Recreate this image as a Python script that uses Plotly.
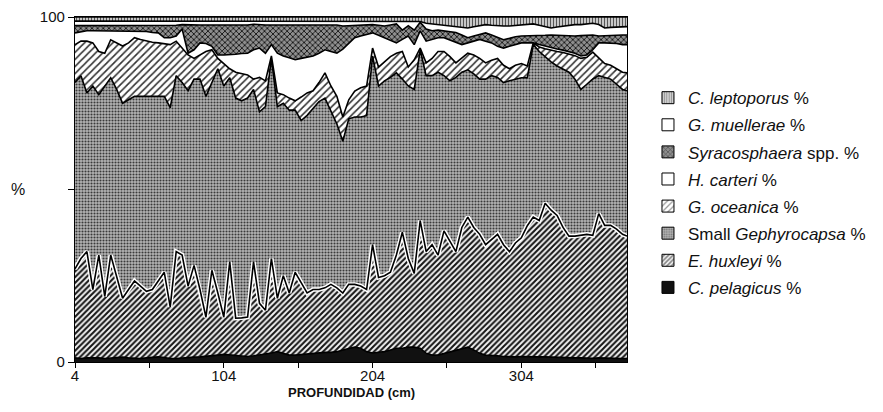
import plotly.graph_objects as go

# Sample depths (cm)
depth = list(range(4, 376, 4)) + [375]

# Species percentages at each depth
pelagicus = [1.2,1.0,1.2,1.3,1.2,1.0,1.2,1.3,1.4,1.2,
             1.0,1.0,1.2,1.4,1.5,1.3,1.0,1.0,1.2,1.3,
             1.4,1.5,1.6,1.8,2.0,2.2,2.0,2.0,1.8,1.6,
             1.8,2.0,2.2,2.6,3.0,2.4,2.0,2.0,2.2,2.2,
             2.4,2.6,2.8,2.8,3.0,3.5,4.0,4.3,4.0,3.0,
             2.6,2.8,3.0,3.5,4.0,4.0,4.3,4.3,4.0,2.5,
             2.0,2.0,2.5,3.0,3.5,4.0,4.3,3.5,2.5,2.0,
             2.0,1.8,1.6,1.5,1.5,1.6,1.5,1.4,1.5,1.5,
             1.4,1.3,1.3,1.2,1.2,1.2,1.1,1.1,1.2,1.1,
             1.0,1.0,1.0,1.0]
huxleyi = [25.8,29.0,30.8,19.7,29.8,18.0,29.8,23.7,17.1,19.8,
           22.5,21.0,19.3,19.6,22.0,24.7,15.0,31.0,29.8,20.7,
           26.6,19.5,11.4,24.8,18.0,10.8,27.0,10.7,11.0,11.4,
           27.2,15.0,12.8,27.4,15.5,22.6,18.0,24.0,20.8,17.8,
           18.6,18.4,18.7,19.7,18.5,16.5,18.5,18.2,18.0,18.0,
           31.4,21.7,22.0,22.5,27.0,33.6,25.7,21.4,37.0,29.5,
           32.0,29.0,35.5,32.0,28.5,35.0,37.7,35.5,34.5,32.0,
           33.5,35.2,32.4,30.5,33.0,34.4,38.0,40.6,39.5,44.5,
           42.6,41.2,37.7,35.3,35.3,35.5,35.9,35.6,41.8,38.5,
           38.6,37.5,36.0,35.5]
small_geph = [54,53,46,59,46.5,61,51.4,54,56.5,55,
              53.5,55,56.5,56,53.5,51,57.7,51,50,56.6,
              54,61,64,54.4,65,67,53.4,63.8,62.9,63.5,
              50,55.5,59,58,55.5,50,53,47,47,51.5,
              52.5,54.5,55,50,47.5,44,48,48.5,49,50.4,
              54.7,55.5,56.5,56.5,52.8,44.4,50,53.3,49.5,51,
              49,53,45,46.5,50.5,45,42.7,44.5,45,48,
              47.5,45.5,47,49.5,47.5,46.4,42.9,50,49,42.5,
              43,43.3,46,47.5,45.5,42.3,43.5,45.3,40,42.9,
              42.4,42,42,42.1]
oceanica = [11,10,15,12.5,12.5,9.5,11,13.5,16.6,16.5,
            17,16.5,16,15.7,15.5,15.3,18.3,10,10,10.4,
            6,7,13,9.5,3,6.5,2.6,7.5,7.8,6.7,
            3,10,7.5,0.7,4,2.5,3.5,2.7,6.8,6.5,
            5.1,5.5,7.3,7.5,8,7,5.5,7.5,8.5,8.6,
            2.3,5.5,5.5,6,5.7,8,5.5,8.6,0.5,3.7,
            5,6,7,7,4.2,4,4.8,5.5,6,4.7,
            4.5,5.5,5,3.5,4,4.1,3.4,0.5,1.3,2.3,
            3.3,4.2,4.7,5.3,6.8,9,7.8,7.8,5,4,
            4,4.5,5,5.2]
carteri = [3.4,2.8,3.0,3.5,6.0,6.5,2.6,3.5,4.4,3.5,
           2.0,2.5,2.8,2.8,2.9,1.7,2.0,1.5,5.5,0.5,
           2.5,3.5,2.3,1.0,1.0,2.5,4.0,5.2,5.9,6.3,
           8.5,8.5,8.0,3.3,11.5,11.2,11.7,11.9,11.2,10.4,
           10.1,8.5,6.7,10,12.5,19.7,16.5,15.5,15,15,
           4.4,9.2,7,4.8,3.0,3.5,9,4.4,5,6.3,
           5.5,4,4,4.8,5.8,4,3,4,5.5,6.3,
           5,3.5,5,6.5,6,6,6.7,0,0.7,0.7,
           0.7,0.7,0.7,0.7,0.7,0.7,0.7,0.7,4.5,6,
           6.5,7.3,8,8.2]
syracosphaera = [2.1,1.7,1.5,1.5,1.5,1.5,1.5,1.5,1.5,1.5,
                 1.5,1.5,1.7,2.0,2.1,3.5,3.5,3.1,1.3,8.2,
                 7.2,5.2,5.4,6.2,8.7,8.5,8.7,8.5,8.3,8.2,
                 7.4,6.7,8.2,5.7,8.2,8.9,9.5,10.1,9.7,9.3,
                 9.1,8.2,7.2,7.7,8.2,6.7,5.0,3.6,3.2,2.8,
                 2.4,2.9,3.4,4.4,5.5,2.7,3.0,4.2,2.5,3.5,
                 2.5,2.2,2.0,2.5,3.0,2.8,1.5,1.5,1.5,2.4,
                 2.3,2.5,2.4,2.3,2.3,2.0,2.0,2.0,2.6,3.2,
                 3.8,4.0,4.2,4.5,5.0,5.9,5.7,4.3,2.0,2.1,
                 2.3,2.5,2.8,2.8]
muellerae = [1.3,1.3,1.3,1.3,1.3,1.3,1.3,1.3,1.3,1.3,
             1.3,1.3,1.3,1.3,1.3,1.3,1.3,1.2,1.0,1.1,
             1.1,1.1,1.1,1.1,1.1,1.3,1.1,1.1,1.1,1.1,
             0.9,1.1,1.1,1.1,1.1,1.2,1.1,1.1,1.1,1.1,
             1.0,1.1,1.1,1.1,1.1,1.3,1.2,1.1,1.0,0.9,
             0.9,1.1,1.3,1.0,0.7,2.5,1.2,2.5,0.2,1.7,
             2.0,1.7,1.8,1.7,1.7,2.2,2.8,2.7,2.6,2.4,
             2.8,3.4,4.0,3.6,3.3,3.3,3.5,3.5,3.0,2.5,
             2.0,2.4,2.8,3.1,3.3,3.2,3.3,3.4,3.3,2.2,
             2.2,2.3,2.4,2.4]
leptoporus = [1.2]*40 + [1.2,1.2,1.2,1.2,1.2,1.3,1.3,1.3,1.3,1.3,
              1.3,1.3,1.3,1.3,1.3,1.3,1.3,1.3,1.3,1.8,
              2.0,2.1,2.2,2.5,2.8,3.0,3.2,2.8,2.4,2.2,
              2.4,2.6,2.6,2.6,2.4,2.2,2.0,2.0,2.4,2.8,
              3.2,2.9,2.6,2.4,2.2,2.2,2.0,1.8,2.2,3.2,
              3.0,2.9,2.8,2.8]

# bottom -> top stacking order
series = [
    ("<i>C. pelagicus</i> %", pelagicus, dict(kind="solid", color="#111111")),
    ("<i>E. huxleyi</i> %", huxleyi, dict(shape="/", fg="#151515", bg="#f4f4f4", size=4, sol=0.52)),
    ("Small <i>Gephyrocapsa</i> %", small_geph, dict(shape=".", fg="#3a3a3a", bg="#b4b4b4", size=3, sol=0.4)),
    ("<i>G. oceanica</i> %", oceanica, dict(shape="/", fg="#333333", bg="#ffffff", size=5, sol=0.32)),
    ("<i>H. carteri</i> %", carteri, dict(kind="solid", color="#ffffff")),
    ("<i>Syracosphaera</i> spp. %", syracosphaera, dict(shape="x", fg="#151515", bg="#8e8e8e", size=4, sol=0.4)),
    ("<i>G. muellerae</i> %", muellerae, dict(kind="solid", color="#ffffff")),
    ("<i>C. leptoporus</i> %", leptoporus, dict(shape="|", fg="#555555", bg="#d4d4d4", size=3, sol=0.4)),
]

fig = go.Figure()
for name, vals, st in series:
    kw = {}
    if st.get("kind") == "solid":
        kw["fillcolor"] = st["color"]
    else:
        kw["fillcolor"] = st["bg"]
        kw["fillpattern"] = dict(shape=st["shape"], fgcolor=st["fg"], bgcolor=st["bg"],
                                 size=st["size"], solidity=st["sol"], fillmode="replace")
    fig.add_trace(go.Scatter(x=depth, y=vals, name=name, mode="lines",
                             stackgroup="one", groupnorm="percent",
                             line=dict(color="black", width=1.6),
                             showlegend=False, hoverinfo="skip", **kw))

# white-haloed outline of the E. huxleyi upper boundary (cumulative of the data)
totals = [sum(v[i] for _, v, _ in series) for i in range(len(depth))]
hux_top = [(pelagicus[i] + huxleyi[i]) / totals[i] * 100 for i in range(len(depth))]
fig.add_trace(go.Scatter(x=depth, y=hux_top, mode="lines", showlegend=False, hoverinfo="skip",
                         line=dict(color="white", width=4.5)))
fig.add_trace(go.Scatter(x=depth, y=hux_top, mode="lines", showlegend=False, hoverinfo="skip",
                         line=dict(color="black", width=1.6)))

# legend entries (top -> bottom)
for name, vals, st in reversed(series):
    if st.get("kind") == "solid":
        marker = dict(color=st["color"], line=dict(color="black", width=1))
    else:
        marker = dict(color=st["bg"], line=dict(color="black", width=1),
                      pattern=dict(shape=st["shape"], fgcolor=st["fg"], bgcolor=st["bg"],
                                   size=st["size"], solidity=st["sol"]))
    fig.add_trace(go.Bar(x=[None], y=[None], name=name, marker=marker,
                         legendgroup=name, showlegend=True))

font_fam = "Liberation Sans, Arial, sans-serif"
# page body keeps an 8px default margin, so the figure is sized to fit the window
fig.update_layout(
    width=875, height=404,
    margin=dict(l=67, r=256, t=9, b=50, autoexpand=False),
    paper_bgcolor="white", plot_bgcolor="white",
    font=dict(family=font_fam, color="#111111"),
    showlegend=True,
    legend=dict(x=1.038, y=0.817, xanchor="left", yanchor="top",
                font=dict(size=17, family=font_fam, color="#111111"),
                tracegroupgap=2, bgcolor="rgba(0,0,0,0)", traceorder="grouped"),
    xaxis=dict(type="linear", range=[4, 375],
               tickvals=[4, 54, 104, 154, 204, 254, 304, 354],
               ticktext=["4", "", "104", "", "204", "", "304", ""],
               ticks="outside", ticklen=5, tickcolor="black", tickwidth=1.2,
               ticklabelstandoff=-5,
               showline=True, linecolor="black", linewidth=1.3, mirror=True,
               showgrid=False, zeroline=False, tickfont=dict(size=15)),
    yaxis=dict(range=[0, 100], tickvals=[0, 50, 100], ticktext=["0", "", "100"],
               ticks="outside", ticklen=6, tickcolor="black", tickwidth=1.2,
               showline=True, linecolor="black", linewidth=1.3, mirror=True,
               showgrid=False, zeroline=False, tickfont=dict(size=15)),
    annotations=[
        dict(text="%", x=-0.119, y=0.5, xref="paper", yref="paper",
             showarrow=False, font=dict(size=16)),
        dict(text="<b>PROFUNDIDAD (cm)</b>", x=0.5, y=-0.087, xref="paper", yref="paper",
             yanchor="middle", showarrow=False, font=dict(size=13)),
    ],
)

fig.write_html("out.html")
